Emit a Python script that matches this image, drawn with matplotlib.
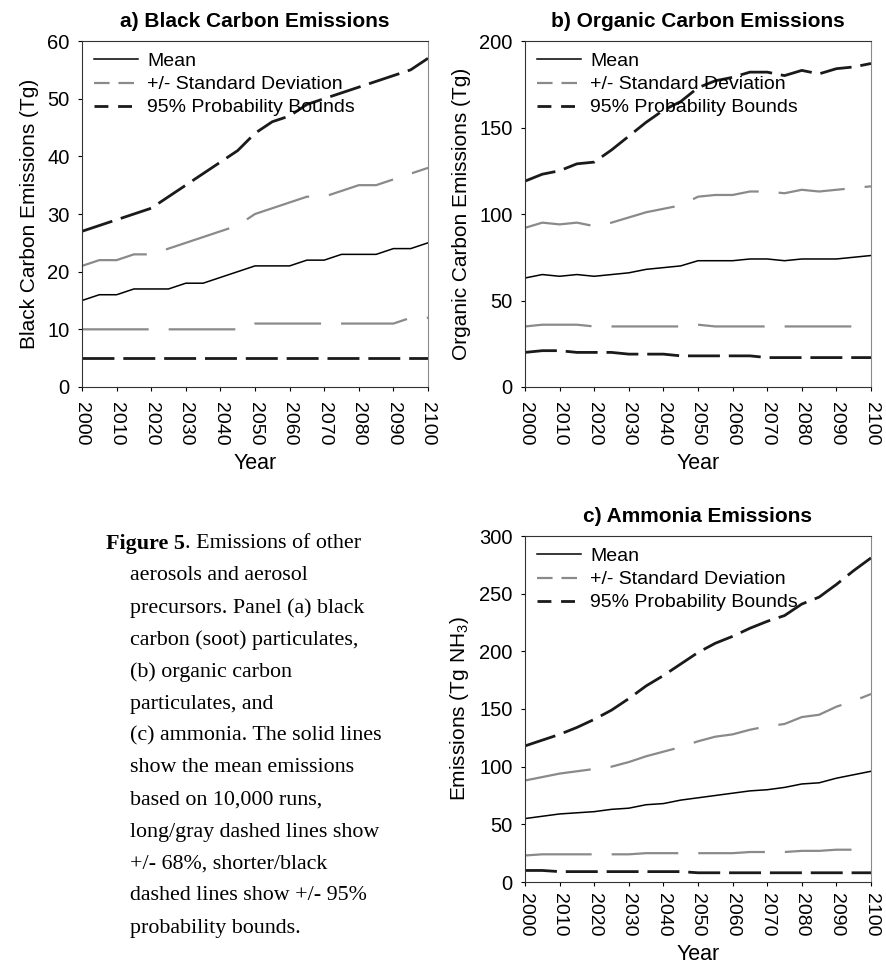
import numpy as np
import matplotlib
matplotlib.use("Agg")
import matplotlib.pyplot as plt
from matplotlib.lines import Line2D

plt.rcParams['font.family'] = ['Liberation Sans', 'DejaVu Sans']
plt.rcParams['mathtext.default'] = 'regular'

years = list(range(2000, 2101, 5))

# a) black carbon (Tg)
bc_mean = [15, 16, 16, 17, 17, 17, 18, 18, 19, 20, 21, 21, 21, 22, 22, 23, 23, 23, 24, 24, 25]
bc_sd_hi = [21, 22, 22, 23, 23, 24, 25, 26, 27, 28, 30, 31, 32, 33, 33, 34, 35, 35, 36, 37, 38]
bc_sd_lo = [10, 10, 10, 10, 10, 10, 10, 10, 10, 10, 11, 11, 11, 11, 11, 11, 11, 11, 11, 12, 12]
bc_95_hi = [27, 28, 29, 30, 31, 33, 35, 37, 39, 41, 44, 46, 47, 49, 50, 51, 52, 53, 54, 55, 57]
bc_95_lo = [5] * 21

# b) organic carbon (Tg)
oc_mean = [63, 65, 64, 65, 64, 65, 66, 68, 69, 70, 73, 73, 73, 74, 74, 73, 74, 74, 74, 75, 76]
oc_sd_hi = [92, 95, 94, 95, 93, 95, 98, 101, 103, 105, 110, 111, 111, 113, 113, 112, 114, 113, 114, 115, 116]
oc_sd_lo = [35, 36, 36, 36, 35, 35, 35, 35, 35, 35, 36, 35, 35, 35, 35, 35, 35, 35, 35, 35, 36]
oc_95_hi = [119, 123, 125, 129, 130, 137, 145, 153, 160, 165, 173, 177, 179, 182, 182, 180, 183, 181, 184, 185, 187]
oc_95_lo = [20, 21, 21, 20, 20, 20, 19, 19, 19, 18, 18, 18, 18, 18, 17, 17, 17, 17, 17, 17, 17]

# c) ammonia (Tg NH3)
nh_mean = [55, 57, 59, 60, 61, 63, 64, 67, 68, 71, 73, 75, 77, 79, 80, 82, 85, 86, 90, 93, 96]
nh_sd_hi = [88, 91, 94, 96, 98, 100, 104, 109, 113, 117, 122, 126, 128, 132, 135, 137, 143, 145, 152, 157, 163]
nh_sd_lo = [23, 24, 24, 24, 24, 24, 24, 25, 25, 25, 25, 25, 25, 26, 26, 26, 27, 27, 28, 28, 29]
nh_95_hi = [118, 123, 128, 134, 141, 149, 159, 170, 179, 189, 199, 207, 213, 220, 226, 231, 241, 247, 258, 270, 281]
nh_95_lo = [10, 10, 9, 9, 9, 9, 9, 9, 9, 9, 8, 8, 8, 8, 8, 8, 8, 8, 8, 8, 8]

caption = ["aerosols and aerosol",
           "precursors. Panel (a) black",
           "carbon (soot) particulates,",
           "(b) organic carbon",
           "particulates, and",
           "(c) ammonia. The solid lines",
           "show the mean emissions",
           "based on 10,000 runs,",
           "long/gray dashed lines show",
           "+/- 68%, shorter/black",
           "dashed lines show +/- 95%",
           "probability bounds."]

W, H = 887, 966
fig = plt.figure(figsize=(W / 100, H / 100), dpi=100)

GRAY = '#8a8a8a'
DARK = '#1a1a1a'


def panel(left, top, title, ylabel, ymax, ystep, mean, sdh, sdl, p95h, p95l,
          xpad=8, xlabelpad=5):
    ax = fig.add_axes([left / W, 1 - (top + 346) / H, 346 / W, 346 / H])
    ax.plot(years, mean, color='black', lw=1.1)
    for s in (sdh, sdl):
        ax.plot(years, s, color=GRAY, lw=1.6, dashes=(30, 9))
    for s in (p95h, p95l):
        ax.plot(years, s, color=DARK, lw=2.0, dashes=(11.5, 3.2))
    ax.set_xlim(2000, 2100)
    ax.set_ylim(0, ymax)
    ax.set_xticks(range(2000, 2101, 10))
    ax.set_yticks(np.arange(0, ymax + 1, ystep))
    ax.tick_params(axis='x', labelrotation=-90, labelsize=14, length=3, pad=xpad)
    ax.tick_params(axis='y', labelsize=14.5, length=3, pad=6)
    for t in ax.get_xticklabels():
        t.set_va('top')
    ax.set_xlabel('Year', fontsize=15.5, labelpad=xlabelpad)
    ax.set_ylabel(ylabel, fontsize=15, labelpad=6)
    ax.set_title(title, fontsize=15, fontweight='bold', pad=10)
    for sp in ('left', 'bottom', 'top'):
        ax.spines[sp].set_color('#333333')
    ax.spines['right'].set_color(GRAY)
    handles = [Line2D([], [], color='black', lw=1.1),
               Line2D([], [], color=GRAY, lw=1.6, dashes=(7, 4)),
               Line2D([], [], color=DARK, lw=2.0, dashes=(5, 3.5))]
    ax.legend(handles, ['Mean', '+/- Standard Deviation', '95% Probability Bounds'],
              loc='upper left', frameon=False, fontsize=14, handlelength=2.3,
              handletextpad=0.45, labelspacing=0.28, borderaxespad=0.0,
              borderpad=0.6)
    return ax


panel(82, 41, 'a) Black Carbon Emissions', 'Black Carbon Emissions (Tg)', 60, 10,
      bc_mean, bc_sd_hi, bc_sd_lo, bc_95_hi, bc_95_lo)
panel(525, 41, 'b) Organic Carbon Emissions', 'Organic Carbon Emissions (Tg)', 200, 50,
      oc_mean, oc_sd_hi, oc_sd_lo, oc_95_hi, oc_95_lo)
panel(525, 536, 'c) Ammonia Emissions', r'Emissions (Tg NH$_3$)', 300, 50,
      nh_mean, nh_sd_hi, nh_sd_lo, nh_95_hi, nh_95_lo, xpad=5, xlabelpad=5)

# caption
cap_fs = 15.8
t0 = fig.text(106 / W, 1 - 544 / H, 'Figure 5', fontsize=cap_fs, fontweight='bold',
              family='Liberation Serif', va='center', ha='left')
fig.canvas.draw()
bb = t0.get_window_extent()
fig.text(bb.x1 / W, 1 - 544 / H, '. Emissions of other', fontsize=cap_fs,
         family='Liberation Serif', va='center', ha='left')
for i, line in enumerate(caption):
    fig.text(130 / W, 1 - (544 + 32 * (i + 1)) / H, line, fontsize=cap_fs,
             family='Liberation Serif', va='center', ha='left')

fig.savefig('out.png', dpi=100)
